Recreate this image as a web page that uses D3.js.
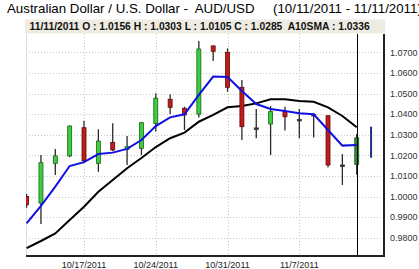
<!DOCTYPE html>
<html>
<head>
<meta charset="utf-8">
<script src="https://cdn.jsdelivr.net/npm/d3@7"></script>
<style>
  body { margin: 0; background: #fff; }
  svg { display: block; font-family: "Liberation Sans", Arial, sans-serif; }
</style>
</head>
<body>
<div id="chart"></div>
<script>
// trading days shown on the chart
var dates = ["10/11/2011","10/12/2011","10/13/2011","10/14/2011","10/17/2011","10/18/2011",
  "10/19/2011","10/20/2011","10/21/2011","10/24/2011","10/25/2011","10/26/2011","10/27/2011",
  "10/28/2011","10/31/2011","11/1/2011","11/2/2011","11/3/2011","11/4/2011","11/7/2011",
  "11/8/2011","11/9/2011","11/10/2011","11/11/2011"];

var open  = [1.0000,0.9968,1.0161,1.0197,1.0334,1.0161,1.0263,1.0229,1.0234,1.0355,1.0472,1.0428,
  1.0400,1.0731,1.0700,1.0530,1.0333,1.0352,1.0412,1.0374,1.0398,1.0392,1.0153,1.0156];
var high  = [1.0012,1.0201,1.0231,1.0345,1.0368,1.0326,1.0355,1.0294,1.0362,1.0501,1.0496,1.0436,
  1.0755,1.0733,1.0719,1.0566,1.0425,1.0439,1.0436,1.0425,1.0404,1.0395,1.0206,1.0303];
var low   = [0.9945,0.9867,1.0104,1.0190,1.0165,1.0120,1.0220,1.0153,1.0201,1.0315,1.0400,1.0323,
  1.0384,1.0658,1.0509,1.0274,1.0283,1.0201,1.0320,1.0283,1.0287,1.0142,1.0056,1.0105];
var close = [0.9960,1.0164,1.0197,1.0342,1.0174,1.0269,1.0226,1.0242,1.0358,1.0477,1.0433,1.0396,
  1.0716,1.0705,1.0530,1.0339,1.0333,1.0412,1.0387,1.0374,1.0398,1.0153,1.0153,1.0285];

// moving averages
var sma10 = [0.9749,0.9784,0.9821,0.9886,0.9950,1.0023,1.0080,1.0137,1.0187,1.0240,1.0283,1.0310,
  1.0363,1.0396,1.0433,1.0439,1.0452,1.0472,1.0472,1.0464,1.0460,1.0433,1.0391,1.0336];
var smaShort = [0.9870,0.9955,1.0048,1.0148,1.0167,1.0206,1.0213,1.0231,1.0274,1.0342,1.0384,1.0399,
  1.0493,1.0582,1.0580,1.0512,1.0449,1.0425,1.0415,1.0404,1.0399,1.0323,1.0247,1.0250];

// range bar drawn one day past the last candle
var nextRange = [1.0188, 1.0339];

var yTicks = [0.98,0.99,1.00,1.01,1.02,1.03,1.04,1.05,1.06,1.07];
var xTickLabels = ["10/17/2011","10/24/2011","10/31/2011","11/7/2011"];

var width = 419, height = 269;
var plotL = 26, plotR = 384, plotT = 34, plotB = 256;

var svg = d3.select('#chart').append('svg')
  .attr('width', width)
  .attr('height', height);

var x = d3.scaleLinear().domain([0, 24.9]).range([26.6, plotR]);
var y = d3.scaleLinear().domain([0.98, 1.07]).range([237.7, 52.3]);

// title
svg.append('text')
  .attr('x', 7).attr('y', 13)
  .style('font-size', '13.3px')
  .style('white-space', 'pre')
  .attr('fill', '#000')
  .text('Australian Dollar / U.S. Dollar -  AUD/USD     (10/11/2011 - 11/11/2011)');

// info bar
svg.append('rect')
  .attr('x', plotL - 1).attr('y', 19.5)
  .attr('width', plotR - plotL + 2).attr('height', 14)
  .attr('fill', '#eeece2');

var last = dates.length - 1;
svg.append('text')
  .attr('x', 29.5).attr('y', 29.5)
  .style('font-size', '10.3px')
  .style('font-weight', 'bold')
  .style('white-space', 'pre')
  .attr('fill', '#111')
  .text(dates[last] + ' O : ' + open[last].toFixed(4) + ' H : ' + high[last].toFixed(4) +
    ' L : ' + low[last].toFixed(4) + ' C : ' + close[last].toFixed(4) +
    '  A10SMA : ' + sma10[last].toFixed(4));

// grid
var grid = svg.append('g');
grid.selectAll('.hgrid').data(yTicks).enter().append('line')
  .attr('x1', plotL).attr('x2', plotR)
  .attr('y1', function(d) { return Math.round(y(d)) + 0.5; })
  .attr('y2', function(d) { return Math.round(y(d)) + 0.5; })
  .attr('stroke', '#c8c8c8')
  .attr('stroke-dasharray', '1,2');

var xTickIdx = xTickLabels.map(function(d) { return dates.indexOf(d); });
grid.selectAll('.vgrid').data(xTickIdx).enter().append('line')
  .attr('x1', function(d) { return Math.round(x(d)) + 0.5; })
  .attr('x2', function(d) { return Math.round(x(d)) + 0.5; })
  .attr('y1', plotT).attr('y2', plotB)
  .attr('stroke', '#c8c8c8')
  .attr('stroke-dasharray', '1,2');

// left border
svg.append('line')
  .attr('x1', plotL + 0.5).attr('x2', plotL + 0.5)
  .attr('y1', plotT).attr('y2', plotB)
  .attr('stroke', '#dddddd');

svg.append('clipPath').attr('id', 'plotClip')
  .append('rect')
  .attr('x', plotL).attr('y', plotT)
  .attr('width', plotR - plotL).attr('height', plotB - plotT);

var plot = svg.append('g').attr('clip-path', 'url(#plotClip)');

// moving average lines
var line = function(arr) {
  return d3.line()
    .x(function(d, i) { return x(i); })
    .y(function(d) { return y(d); })(arr);
};

plot.append('path')
  .attr('d', line(sma10))
  .attr('fill', 'none')
  .attr('stroke', '#000')
  .attr('stroke-width', 2);

// candles
var candles = dates.map(function(d, i) {
  return {i: i, o: open[i], h: high[i], l: low[i], c: close[i]};
});

function candleFill(d) {
  if (d.i === last) return '#2e8a2e';
  if (Math.abs(d.c - d.o) < 0.0002) return '#333';
  return d.c > d.o ? '#3ccf3c' : '#c41a1a';
}
function candleStroke(d) {
  if (Math.abs(d.c - d.o) < 0.0002) return '#333';
  return d.c > d.o ? '#1d5f1d' : '#5a0d0d';
}

var cg = plot.selectAll('.candle').data(candles).enter().append('g')
  .attr('class', 'candle');

cg.append('line')
  .attr('x1', function(d) { return x(d.i); })
  .attr('x2', function(d) { return x(d.i); })
  .attr('y1', function(d) { return y(d.h); })
  .attr('y2', function(d) { return y(d.l); })
  .attr('stroke', '#2a2a2a')
  .attr('stroke-width', 1.3);

cg.append('rect')
  .attr('x', function(d) { return x(d.i) - 2; })
  .attr('width', 4)
  .attr('y', function(d) { return y(Math.max(d.o, d.c)); })
  .attr('height', function(d) { return Math.max(1.5, Math.abs(y(d.o) - y(d.c))); })
  .attr('fill', candleFill)
  .attr('stroke', candleStroke)
  .attr('stroke-width', 0.8);

plot.append('path')
  .attr('d', line(smaShort))
  .attr('fill', 'none')
  .attr('stroke', '#1010e0')
  .attr('stroke-width', 2);

// next-day range bar
plot.append('line')
  .attr('x1', x(dates.length)).attr('x2', x(dates.length))
  .attr('y1', y(nextRange[1])).attr('y2', y(nextRange[0]))
  .attr('stroke', '#1a2f8a')
  .attr('stroke-width', 2);

// crosshair on the selected day
svg.append('line')
  .attr('x1', Math.round(x(last)) + 0.5).attr('x2', Math.round(x(last)) + 0.5)
  .attr('y1', plotT).attr('y2', plotB)
  .attr('stroke', '#000')
  .attr('stroke-width', 1);

// axes lines
svg.append('line')
  .attr('x1', plotR).attr('x2', plotR)
  .attr('y1', plotT).attr('y2', plotB + 1)
  .attr('stroke', '#222').attr('stroke-width', 2);
svg.append('line')
  .attr('x1', plotL).attr('x2', plotR + 1)
  .attr('y1', plotB).attr('y2', plotB)
  .attr('stroke', '#222').attr('stroke-width', 2);

// y labels
svg.selectAll('.ylab').data(yTicks).enter().append('text')
  .attr('x', 390)
  .attr('y', function(d) { return y(d) + 3.3; })
  .style('font-size', '9px')
  .attr('fill', '#333')
  .text(function(d) { return d3.format('.4f')(d); });

// x labels
svg.selectAll('.xlab').data(xTickIdx).enter().append('text')
  .attr('x', function(d) { return x(d); })
  .attr('y', 268)
  .attr('text-anchor', 'middle')
  .style('font-size', '9px')
  .attr('fill', '#222')
  .text(function(d) { return dates[d]; });
</script>
</body>
</html>
